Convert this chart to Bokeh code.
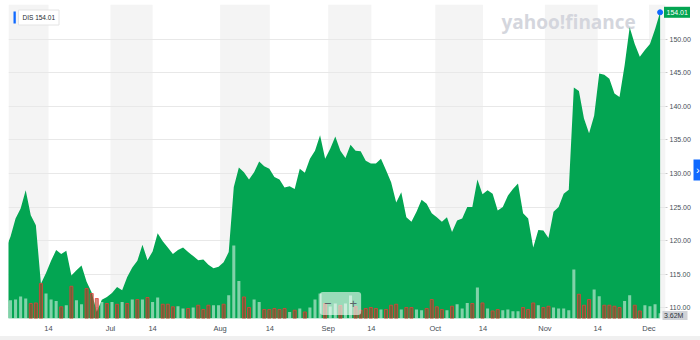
from bokeh.plotting import figure
from bokeh.layouts import column
from bokeh.models import Range1d, FixedTicker, BoxAnnotation, Label, NumeralTickFormatter, Spacer
from bokeh.embed import file_html
from bokeh.resources import INLINE
from bokeh.core.properties import value

# ---------------- data ----------------
symbol = "DIS"
# daily closes, first session (index -1) sits just left of the visible window
close = [
    118.7,
    120.6, 123.3, 124.8, 127.5, 123.8, 122.3, 113.6, 115.2, 117.0, 118.6,
    118.0, 118.5, 114.8, 115.6, 116.3, 113.9, 112.3, 109.4, 111.2, 111.6,
    112.2, 113.1, 112.6, 114.6, 116.0, 117.0, 119.4, 117.1, 118.4, 121.1,
    119.9, 119.0, 118.0, 118.6, 119.0, 118.3, 117.7, 117.1, 117.2, 116.4,
    115.9, 116.1, 116.8, 118.3, 128.0, 130.9, 130.2, 129.1, 130.2, 131.8,
    131.1, 130.7, 129.5, 129.1, 127.9, 128.1, 127.7, 130.7, 130.1, 132.2,
    133.4, 135.7, 132.2, 133.7, 135.5, 133.4, 132.3, 134.3, 133.4, 133.3,
    131.9, 131.5, 131.5, 132.2, 130.5, 128.7, 125.7, 127.2, 123.5, 122.8,
    124.3, 126.1, 125.5, 124.1, 123.5, 122.8, 123.5, 121.3, 123.0, 123.3,
    125.0, 125.0, 129.1, 126.9, 127.5, 127.0, 124.5, 125.0, 126.7, 127.7,
    128.5, 124.1, 123.3, 119.0, 121.6, 121.5, 120.4, 124.3, 125.0, 127.0,
    127.6, 142.8, 142.3, 138.2, 136.0, 138.6, 144.9, 144.7, 144.1, 141.9,
    141.4, 146.1, 151.8, 149.3, 147.4, 148.4, 149.3, 151.5, 154.01,
]
# daily volume, millions of shares
volume_m = [
    12.0,
    12.8, 13.3, 15.4, 14.0, 10.5, 10.9, 24.5, 17.5, 13.3, 12.3,
    8.2, 9.3, 22.6, 12.8, 10.0, 21.0, 17.5, 14.0, 11.6, 10.5,
    11.6, 10.0, 11.6, 10.5, 13.3, 13.3, 13.3, 14.7, 11.6, 14.7,
    10.0, 10.0, 8.2, 8.6, 7.0, 7.0, 7.7, 9.3, 6.3, 9.3,
    9.3, 9.3, 10.0, 16.3, 51.1, 26.3, 15.1, 7.7, 13.3, 11.6,
    6.3, 6.3, 7.0, 6.3, 7.0, 4.6, 5.8, 7.0, 4.6, 7.7,
    13.3, 17.5, 10.5, 8.4, 10.5, 9.1, 10.5, 16.1, 8.4, 5.8,
    7.0, 7.7, 7.0, 6.3, 6.3, 9.3, 10.0, 6.3, 7.7, 7.7,
    6.3, 5.8, 7.0, 13.3, 8.2, 6.3, 5.8, 8.6, 10.0, 7.0,
    10.9, 10.5, 21.7, 10.9, 7.0, 5.3, 6.3, 5.8, 6.3, 5.1,
    5.1, 7.7, 6.3, 10.9, 9.3, 7.7, 8.6, 7.7, 7.0, 7.0,
    5.8, 34.3, 17.0, 9.3, 13.3, 20.3, 15.6, 9.3, 9.3, 8.6,
    7.7, 12.3, 16.3, 9.3, 5.3, 9.3, 8.6, 10.0, 3.62,
]
# 1 = up-day (light bar), 0 = down-day (red bar)
vol_up = [
    1,
    1, 1, 1, 1, 0, 0, 0, 1, 1, 1,
    0, 1, 0, 1, 1, 0, 0, 0, 1, 0,
    1, 0, 1, 0, 1, 0, 1, 0, 1, 1,
    0, 0, 0, 1, 1, 0, 1, 0, 0, 0,
    1, 1, 0, 1, 1, 1, 0, 0, 1, 1,
    0, 0, 0, 0, 0, 1, 0, 1, 0, 1,
    1, 1, 0, 1, 1, 0, 1, 1, 0, 0,
    0, 0, 0, 1, 0, 0, 0, 1, 0, 0,
    1, 1, 0, 0, 0, 0, 1, 0, 1, 1,
    1, 0, 1, 0, 1, 0, 0, 1, 1, 1,
    1, 0, 0, 0, 1, 0, 0, 1, 1, 1,
    1, 1, 0, 0, 0, 1, 1, 0, 0, 0,
    0, 1, 1, 0, 0, 1, 1, 1, 1,
]
first_index = -1
x_ticks = [7.5, 19.7, 28.0, 41.3, 51.1, 62.6, 71.1, 83.7, 93.1, 105.3, 115.7, 125.8]
x_tick_labels = ["14", "Jul", "14", "Aug", "14", "Sep", "14", "Oct", "14", "Nov", "14", "Dec"]
price_ticks = [110, 115, 120, 125, 130, 135, 140, 145, 150]
last_volume_text = "3.62M"

# ---------------- styling / layout ----------------
GREEN = "#03a552"
BLUE = "#0f69ff"
FONT = "Liberation Sans"
LABEL_C = "#464e56"

X_LO, X_HI = -0.39, 129.06
Y_LO, Y_HI = 108.41, 155.17
FL, FR, FT, FB = 8, 665, 4, 318


def px(xpix):
    return X_LO + (xpix - FL) * (X_HI - X_LO) / (FR - FL)


def py(ypix):
    return Y_HI - (ypix - FT) * (Y_HI - Y_LO) / (FB - FT)


n = len(close)
xs = list(range(first_index, first_index + n))

p = figure(width=700, height=336, x_range=Range1d(X_LO, X_HI), y_range=Range1d(Y_LO, Y_HI),
           y_axis_location="right", output_backend="svg", toolbar_location=None,
           min_border_left=FL, min_border_right=700 - FR, min_border_top=FT, min_border_bottom=336 - FB,
           outline_line_color=None, background_fill_color="white", border_fill_color="white")

# alternating half-month bands
edges = [X_LO] + x_ticks + [X_HI]
for k in range(0, len(edges) - 1, 2):
    p.add_layout(BoxAnnotation(left=edges[k], right=edges[k + 1], fill_color="#f4f4f4",
                               fill_alpha=1, line_color=None, level="image"))

p.xgrid.visible = False
p.ygrid.ticker = FixedTicker(ticks=price_ticks)
p.ygrid.grid_line_color = "#e8e8e8"
p.ygrid.grid_line_width = 1

# watermark
p.text(x=[px(501)], y=[py(21.5)], text=["yahoo!finance"], text_font=value("Open Sans"),
       text_font_style="bold", text_font_size="19px", text_color="#d4d6dd",
       text_baseline="middle", text_align="left")

# price area
p.varea(x=xs, y1=Y_LO, y2=close, fill_color=GREEN, fill_alpha=1)

# volume bars
p.extra_y_ranges = {"vol": Range1d(0, 220)}
up_x = [x for x, u in zip(xs, vol_up) if u]
up_v = [v for v, u in zip(volume_m, vol_up) if u]
dn_x = [x for x, u in zip(xs, vol_up) if not u]
dn_v = [v for v, u in zip(volume_m, vol_up) if not u]
p.vbar(x=up_x, top=up_v, bottom=0, width=0.6, y_range_name="vol",
       fill_color="white", fill_alpha=0.5, line_color=None)
p.vbar(x=dn_x, top=dn_v, bottom=0, width=0.6, y_range_name="vol",
       fill_color="#b5382a", fill_alpha=0.6, line_color="#e0433a", line_width=0.8)

# last point marker
p.scatter(x=[xs[-1]], y=[close[-1]], size=5, color=BLUE, line_color=BLUE)

# axes
ya = p.yaxis[0]
ya.ticker = FixedTicker(ticks=price_ticks)
ya.formatter = NumeralTickFormatter(format="0.00")
ya.axis_line_color = None
ya.major_tick_line_color = "#c8c8c8"
ya.major_tick_in = 0
ya.major_tick_out = 2
ya.minor_tick_line_color = None
ya.major_label_standoff = 2
ya.major_label_text_font = FONT
ya.major_label_text_font_size = "7px"
ya.major_label_text_color = LABEL_C

xa = p.xaxis[0]
xa.ticker = FixedTicker(ticks=x_ticks)
xa.major_label_overrides = dict(zip(x_ticks, x_tick_labels))
xa.axis_line_color = None
xa.major_tick_line_color = None
xa.minor_tick_line_color = None
xa.major_tick_out = 0
xa.major_label_standoff = 5
xa.major_label_text_font = FONT
xa.major_label_text_font_size = "7.5px"
xa.major_label_text_color = LABEL_C

# last-price tag in the axis margin (overlay-level glyphs are not clipped)
p.rect(x=[px(676.5)], y=[close[-1]], width=26, height=11, width_units="screen",
       height_units="screen", fill_color=GREEN, line_color=None, level="overlay")
p.text(x=[px(666)], y=[close[-1]], text=[f"{close[-1]:.2f}"], text_font=value(FONT),
       text_font_size="7px", text_color="white", text_align="left", text_baseline="middle",
       level="overlay")

# current-volume box in the axis margin
p.rect(x=[px(674.5)], y=[py(315)], width=25, height=9, width_units="screen",
       height_units="screen", fill_color="#cdd0d5", fill_alpha=0.95, line_color=None,
       level="overlay")
p.text(x=[px(663.5)], y=[py(315)], text=[last_volume_text], text_font=value(FONT),
       text_font_size="7px", text_color="#2c3238", text_align="left", text_baseline="middle",
       level="overlay")

# blue side tab
p.rect(x=[px(697)], y=[py(169.5)], width=8, height=21, width_units="screen",
       height_units="screen", fill_color=BLUE, line_color=None, level="overlay")
p.text(x=[px(695.5)], y=[py(169.5)], text=["\u203a"], text_font=value(FONT),
       text_font_size="11px", text_color="white", text_align="left", text_baseline="middle",
       level="overlay")

# legend chip
p.add_layout(Label(x=px(18), y=py(17), text=f"{symbol} {close[-1]:.2f}", text_align="left",
                   text_baseline="middle", text_font=FONT, text_font_size="6.5px",
                   text_color="#232a31", background_fill_color="white",
                   border_line_color="#e4e4e4", padding=4))
p.add_layout(BoxAnnotation(left=px(13), right=px(15.3), top=py(11), bottom=py(23),
                           fill_color=BLUE, fill_alpha=1, line_color=None))

# zoom control
p.add_layout(Label(x=px(340), y=py(303), text="\u2212\u00a0\u00a0\u00a0\u00a0\u00a0+",
                   text_align="center", text_baseline="middle", text_font=FONT,
                   text_font_size="13px", text_color="#5b636a", background_fill_color="white",
                   background_fill_alpha=0.6, padding=4, border_radius=3))

strip = Spacer(width=700, height=4, styles={"background-color": "#f0f0f0"})
layout = column(p, strip, spacing=0)

open("out.html", "w").write(file_html(layout, INLINE))
